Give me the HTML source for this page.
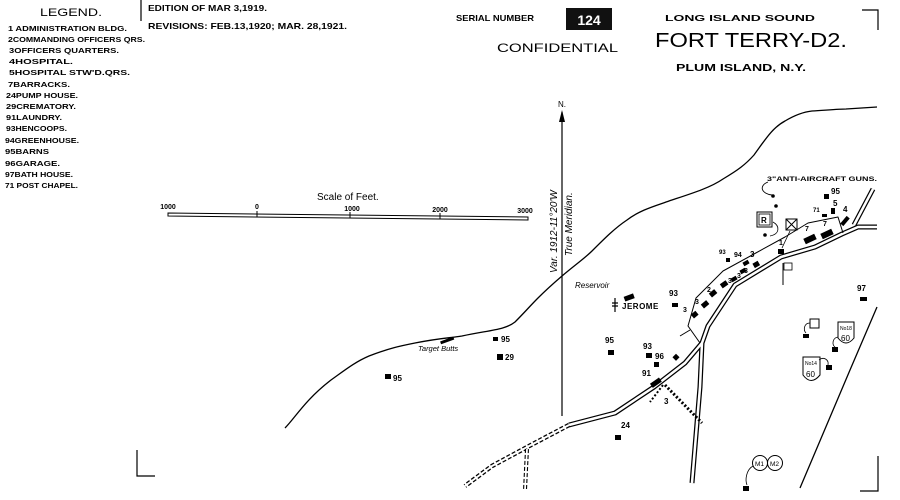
<!DOCTYPE html>
<html><head><meta charset="utf-8"><style>
html,body{margin:0;padding:0;background:#fff;}
svg{display:block;font-family:"Liberation Sans",sans-serif;}
</style></head><body>
<svg width="900" height="500" viewBox="0 0 900 500" xmlns="http://www.w3.org/2000/svg">
<rect width="900" height="500" fill="#fff"/>
<!-- Legend -->
<text x="40" y="16" font-size="11" textLength="62" lengthAdjust="spacingAndGlyphs">LEGEND.</text>
<g font-size="7.2" font-weight="bold" lengthAdjust="spacingAndGlyphs">
<text x="8" y="31" textLength="119" lengthAdjust="spacingAndGlyphs">1 ADMINISTRATION BLDG.</text>
<text x="8" y="42" textLength="137" lengthAdjust="spacingAndGlyphs">2COMMANDING OFFICERS QRS.</text>
<text x="9" y="53" textLength="110" lengthAdjust="spacingAndGlyphs">3OFFICERS QUARTERS.</text>
<text x="9" y="64" textLength="64" lengthAdjust="spacingAndGlyphs">4HOSPITAL.</text>
<text x="9" y="75" textLength="121" lengthAdjust="spacingAndGlyphs">5HOSPITAL STW'D.QRS.</text>
<text x="8" y="87" textLength="62" lengthAdjust="spacingAndGlyphs">7BARRACKS.</text>
<text x="6" y="98" textLength="72" lengthAdjust="spacingAndGlyphs">24PUMP HOUSE.</text>
<text x="6" y="109" textLength="70" lengthAdjust="spacingAndGlyphs">29CREMATORY.</text>
<text x="6" y="120" textLength="56" lengthAdjust="spacingAndGlyphs">91LAUNDRY.</text>
<text x="6" y="131" textLength="61" lengthAdjust="spacingAndGlyphs">93HENCOOPS.</text>
<text x="5" y="143" textLength="74" lengthAdjust="spacingAndGlyphs">94GREENHOUSE.</text>
<text x="5" y="154" textLength="44" lengthAdjust="spacingAndGlyphs">95BARNS</text>
<text x="5" y="166" textLength="55" lengthAdjust="spacingAndGlyphs">96GARAGE.</text>
<text x="5" y="177" textLength="68" lengthAdjust="spacingAndGlyphs">97BATH HOUSE.</text>
<text x="5" y="188" textLength="73" lengthAdjust="spacingAndGlyphs">71 POST CHAPEL.</text>
</g>
<line x1="141" y1="0" x2="141" y2="21" stroke="#000" stroke-width="1.2"/>
<text x="148" y="11" font-size="8" font-weight="bold" textLength="119" lengthAdjust="spacingAndGlyphs">EDITION OF MAR 3,1919.</text>
<text x="148" y="29" font-size="8.5" font-weight="bold" textLength="199" lengthAdjust="spacingAndGlyphs">REVISIONS: FEB.13,1920; MAR. 28,1921.</text>
<text x="456" y="21" font-size="8.5" font-weight="bold" textLength="78" lengthAdjust="spacingAndGlyphs">SERIAL NUMBER</text>
<rect x="566" y="8" width="46" height="22" fill="#111"/>
<text x="589" y="25" font-size="14" font-weight="bold" fill="#fff" text-anchor="middle">124</text>
<text x="497" y="52" font-size="12" textLength="121" lengthAdjust="spacingAndGlyphs">CONFIDENTIAL</text>
<text x="665" y="21" font-size="8.5" font-weight="bold" textLength="150" lengthAdjust="spacingAndGlyphs">LONG ISLAND SOUND</text>
<text x="655" y="47" font-size="20" textLength="192" lengthAdjust="spacingAndGlyphs">FORT TERRY-D2.</text>
<text x="676" y="71" font-size="10.5" font-weight="bold" textLength="130" lengthAdjust="spacingAndGlyphs">PLUM ISLAND, N.Y.</text>
<!-- corner marks -->
<g stroke="#000" stroke-width="1.2" fill="none">
<path d="M862 10 H878 V30"/>
<path d="M137 450 V476 H155"/>
<path d="M878 456 V491 H860"/>
</g>
<!-- scale -->
<text x="317" y="200" font-size="10">Scale of Feet.</text>
<g font-size="7" font-weight="bold" text-anchor="middle">
<text x="168" y="209">1000</text><text x="257" y="209">0</text><text x="352" y="211">1000</text><text x="440" y="212">2000</text><text x="525" y="213">3000</text>
</g>
<path d="M168 213 L528 217 L528 220 L168 216 Z" fill="none" stroke="#000" stroke-width="1"/>
<line x1="257" y1="211" x2="257" y2="217" stroke="#000"/><line x1="350" y1="212" x2="350" y2="218" stroke="#000"/><line x1="440" y1="213" x2="440" y2="219" stroke="#000"/>
<!-- north -->
<line x1="562" y1="112" x2="562" y2="416" stroke="#000" stroke-width="1.2"/>
<path d="M562 110 L559 122 L565 122 Z" fill="#000"/>
<text x="558" y="107" font-size="8">N.</text>
<text transform="translate(557,273) rotate(-90)" font-size="10" font-style="italic">Var. 1912-11°20'W</text>
<text transform="translate(572,256) rotate(-90)" font-size="10" font-style="italic">True Meridian.</text>
<!-- coastlines -->
<path d="M285 428 C295 418 305 400 331 380 C345 370 355 362 369 356 C390 348 400 346 415 343 C440 338 450 338 462 336 C490 330 505 330 515 322 C525 312 530 306 538 298 C548 288 555 282 562 276 C575 265 585 258 592 251 C605 238 615 228 627 220 C640 210 655 206 669 201 C690 194 710 188 723 179 C738 170 745 165 754 155 C765 140 772 128 785 121 C795 115 803 112 812 111 C828 110 840 109 846 109 L877 107" fill="none" stroke="#000" stroke-width="1.3"/>
<path d="M877 307 L850 370 L800 488" fill="none" stroke="#000" stroke-width="1.3"/>
<!-- roads -->
<g fill="none" stroke-linejoin="round">
<path d="M692 483 L700 387 L702 343 L708 326 L735 285 L781 257 L815 247 L842 234 L858 227 L877 227" stroke="#000" stroke-width="5"/>
<path d="M854 225 L873 189" stroke="#000" stroke-width="5"/>
<path d="M702 343 L685 363 L654 387 L615 413 L569 425" stroke="#000" stroke-width="5"/>
<path d="M692 483 L700 387 L702 343 L708 326 L735 285 L781 257 L815 247 L842 234 L858 227 L877 227" stroke="#fff" stroke-width="2.5"/>
<path d="M854 225 L873 189" stroke="#fff" stroke-width="2.5"/>
<path d="M702 343 L685 363 L654 387 L615 413 L569 425" stroke="#fff" stroke-width="2.5"/>
<path d="M569 425 L531 445 L492 466 L465 486" stroke="#000" stroke-width="4.5" stroke-dasharray="4 2"/>
<path d="M569 425 L531 445 L492 466 L465 486" stroke="#fff" stroke-width="2"/>
<path d="M527 449 L525 490" stroke="#000" stroke-width="4" stroke-dasharray="4 2"/>
<path d="M527 449 L525 490" stroke="#fff" stroke-width="1.8"/>
<path d="M700 343 L688 326 L696 298 L723 271 L754 254 L785 237 L808 223 L838 217 L843 233" stroke="#000" stroke-width="1"/>
<path d="M690 330 L680 336" stroke="#000" stroke-width="1"/>
</g>
<!-- dotted -->
<line x1="665" y1="385" x2="702" y2="423" stroke="#000" stroke-width="3" stroke-dasharray="2 2"/>
<line x1="663" y1="385" x2="650" y2="402" stroke="#000" stroke-width="2" stroke-dasharray="2 2"/>
<!-- buildings & labels -->
<g fill="#000">
<rect x="385" y="374" width="6" height="5"/><rect x="497" y="354" width="6" height="6"/><rect x="493" y="337" width="5" height="4"/>
<rect x="608" y="350" width="6" height="5"/><rect x="646" y="353" width="6" height="5"/><rect x="654" y="362" width="5" height="5"/>
<rect x="673" y="355" width="5" height="5" transform="rotate(45 676 358)"/>
<rect x="650" y="380" width="11" height="5" transform="rotate(-35 656 382)"/>
<rect x="615" y="435" width="6" height="5"/>
<rect x="440" y="339" width="14" height="3" transform="rotate(-20 447 340)"/>
<rect x="624" y="295" width="10" height="5" transform="rotate(-20 629 297)"/>
<rect x="672" y="303" width="6" height="4"/>
<rect x="692" y="312" width="6" height="5" transform="rotate(-40 695 315)"/>
<rect x="702" y="302" width="7" height="5" transform="rotate(-40 705 305)"/>
<rect x="710" y="291" width="7" height="5" transform="rotate(-40 713 294)"/>
<rect x="721" y="282" width="7" height="5" transform="rotate(-35 724 285)"/>
<rect x="731" y="277" width="6" height="4" transform="rotate(-30 734 279)"/>
<rect x="740" y="269" width="6" height="4" transform="rotate(-30 743 271)"/>
<rect x="743" y="261" width="6" height="4" transform="rotate(-30 746 263)"/>
<rect x="753" y="262" width="6" height="5" transform="rotate(-30 756 264)"/>
<rect x="726" y="258" width="4" height="4"/>
<rect x="778" y="249" width="6" height="5"/>
<rect x="804" y="236" width="12" height="6" transform="rotate(-25 810 239)"/>
<rect x="821" y="231" width="12" height="6" transform="rotate(-25 827 234)"/>
<rect x="822" y="214" width="5" height="3"/>
<rect x="831" y="208" width="4" height="6"/>
<rect x="843" y="216" width="4" height="10" transform="rotate(40 845 221)"/>
<rect x="824" y="194" width="5" height="5"/>
<rect x="860" y="297" width="7" height="4"/>
<rect x="803" y="334" width="6" height="4"/>
<rect x="832" y="347" width="6" height="5"/>
<rect x="826" y="365" width="6" height="5"/>
<rect x="743" y="486" width="6" height="5"/>
<circle cx="773" cy="196" r="1.8"/><circle cx="776" cy="206" r="1.8"/><circle cx="765" cy="235" r="1.8"/>
</g>
<g font-size="8" font-weight="bold">
<text x="393" y="381">95</text><text x="505" y="360">29</text><text x="501" y="342">95</text>
<text x="605" y="343">95</text><text x="643" y="349">93</text><text x="655" y="359">96</text><text x="642" y="376">91</text>
<text x="664" y="404">3</text><text x="621" y="428">24</text><text x="669" y="296">93</text>
<text x="683" y="312" font-size="7">3</text><text x="695" y="304" font-size="7">3</text><text x="707" y="292" font-size="7">2</text>
<text x="719" y="254" font-size="6">93</text><text x="734" y="257" font-size="7">94</text><text x="750" y="257">3</text>
<text x="728" y="283" font-size="7">3</text><text x="737" y="278" font-size="7">3</text><text x="744" y="273" font-size="7">3</text>
<text x="779" y="245" font-size="7">1</text><text x="805" y="231" font-size="7">7</text><text x="823" y="226" font-size="7">7</text>
<text x="813" y="212" font-size="6">71</text><text x="833" y="206">5</text><text x="843" y="212">4</text><text x="831" y="194">95</text>
<text x="857" y="291">97</text>
</g>
<text x="418" y="351" font-size="7.5" font-style="italic">Target Butts</text>
<text x="575" y="288" font-size="8" font-style="italic">Reservoir</text>
<text x="622" y="309" font-size="8" font-weight="bold" letter-spacing="0.5">JEROME</text>
<path d="M615 298 V312 M612 303 H618 M612 306 H618" stroke="#000" stroke-width="1.2"/>
<text x="767" y="181" font-size="6.5" font-weight="bold" textLength="110" lengthAdjust="spacingAndGlyphs">3"ANTI-AIRCRAFT GUNS.</text>
<path d="M768 182 C758 186 762 194 772 195" fill="none" stroke="#000" stroke-width="0.9"/>
<!-- R and X boxes -->
<rect x="757" y="212" width="15" height="15" fill="none" stroke="#000" stroke-width="1"/>
<rect x="759" y="214" width="11" height="11" fill="none" stroke="#000" stroke-width="0.8"/>
<text x="761" y="223" font-size="8" font-weight="bold">R</text>
<rect x="786" y="219" width="11" height="11" fill="none" stroke="#000"/>
<path d="M786 219 L797 230 M797 219 L786 230" stroke="#000"/>
<path d="M773 222 C780 226 780 234 770 236 M790 231 L782 248" fill="none" stroke="#000" stroke-width="0.8"/>
<!-- flag -->
<path d="M783 263 V285" stroke="#000" stroke-width="1"/>
<rect x="784" y="263" width="8" height="7" fill="none" stroke="#000" stroke-width="0.8"/>
<!-- batteries -->
<rect x="810" y="319" width="9" height="9" fill="none" stroke="#000"/>
<path d="M810 323 C804 323 803 330 806 333" fill="none" stroke="#000" stroke-width="0.8"/>
<path d="M838 322 H854 V338 Q846 348 838 338 Z" fill="#fff" stroke="#000"/>
<text x="840" y="330" font-size="5">No18</text><text x="841" y="341" font-size="8">60</text>
<path d="M838 337 C832 338 832 345 835 347" fill="none" stroke="#000" stroke-width="0.8"/>
<path d="M803 357 H820 V375 Q811 386 803 375 Z" fill="#fff" stroke="#000"/>
<text x="805" y="365" font-size="5">No14</text><text x="806" y="377" font-size="8">60</text>
<path d="M819 360 C824 356 829 360 828 365" fill="none" stroke="#000" stroke-width="0.8"/>
<circle cx="760" cy="463" r="7.5" fill="#fff" stroke="#000"/><circle cx="775" cy="463" r="7.5" fill="#fff" stroke="#000"/>
<text x="755" y="466" font-size="6.5">M1</text><text x="770" y="466" font-size="6.5">M2</text>
<path d="M753 466 C746 470 745 480 747 485" fill="none" stroke="#000" stroke-width="0.8"/>
</svg>
</body></html>
